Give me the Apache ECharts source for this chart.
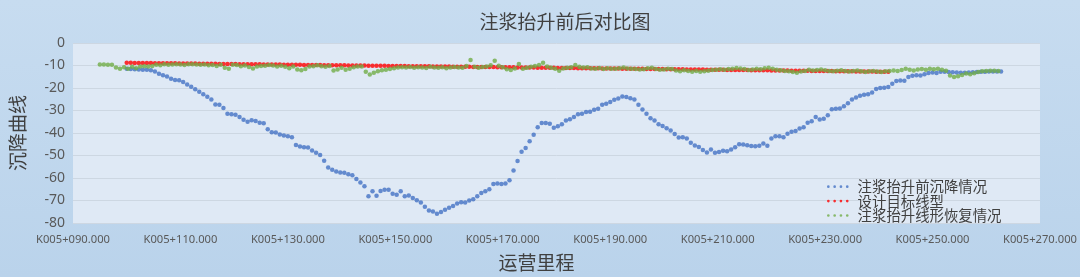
<!DOCTYPE html>
<html>
<head>
<meta charset="utf-8">
<script src="https://cdn.jsdelivr.net/npm/echarts@6/dist/echarts.min.js"></script>
<style>
html,body{margin:0;padding:0;width:1080px;height:277px;overflow:hidden;}
#c{width:1080px;height:277px;}
</style>
</head>
<body>
<div id="c"></div>
<script>
// ---- data ----
const titleText = '注浆抬升前后对比图';
const yAxisName = '沉降曲线';
const xAxisName = '运营里程';
const seriesNames = ['注浆抬升前沉降情况', '设计目标线型', '注浆抬升线形恢复情况'];
const xTickValues = [90, 110, 130, 150, 170, 190, 210, 230, 250, 270];
const yTickValues = [0, -10, -20, -30, -40, -50, -60, -70, -80];
const stationStep = 0.75;          // m between survey points
const beforeStart = 100;           // first station (K005+xxx) of each series
const designStart = 100;
const afterStart = 95;

const beforeValues = [
-11.5,-11.6,-11.7,-11.8,-11.9,-11.9,-12.1,-12.7,-13.7,-14.3,-14.9,-15.9,-16.4,-16.6,-17.3,-18.4,-19.5,-20.6,-21.7,-22.8,
-23.9,-25.1,-27.3,-27.5,-28.9,-31.4,-31.7,-31.9,-32.9,-34.1,-35.0,-34.3,-34.7,-35.4,-35.7,-38.3,-39.7,-39.8,-40.7,-41.1,
-41.4,-41.9,-45.3,-46.0,-46.3,-46.5,-47.8,-48.8,-49.8,-52.3,-55.3,-56.3,-57.1,-57.6,-57.7,-58.3,-58.8,-60.5,-62.0,-63.7,
-68.1,-65.9,-67.9,-65.8,-65.2,-65.2,-67.0,-67.5,-65.9,-68.1,-67.8,-68.9,-69.9,-70.9,-72.8,-74.5,-74.9,-75.9,-75.1,-74.1,
-73.2,-72.4,-71.3,-70.8,-70.9,-70.0,-69.4,-68.1,-66.7,-65.9,-65.0,-62.7,-62.5,-62.7,-62.5,-61.0,-56.7,-52.5,-48.3,-46.7,
-43.7,-40.8,-37.5,-35.6,-35.6,-35.9,-37.7,-37.0,-36.1,-34.5,-33.9,-32.9,-31.7,-31.4,-30.7,-30.6,-29.7,-29.2,-27.5,-27.0,
-26.2,-25.2,-24.7,-23.8,-24.0,-24.6,-25.1,-27.5,-29.6,-31.5,-33.5,-34.4,-36.1,-36.9,-37.9,-38.9,-40.5,-42.0,-41.9,-42.4,
-44.3,-45.6,-46.2,-47.6,-48.7,-47.3,-48.8,-48.4,-47.9,-48.1,-47.3,-46.3,-45.0,-45.1,-45.5,-45.8,-45.9,-45.7,-44.7,-45.7,
-42.5,-41.5,-41.5,-41.9,-40.3,-39.4,-39.1,-38.0,-37.4,-35.4,-34.8,-32.9,-34.0,-33.7,-32.1,-29.4,-29.2,-29.1,-28.1,-26.8,
-25.1,-24.2,-23.5,-23.0,-22.8,-22.0,-20.4,-20.0,-19.9,-19.6,-18.1,-16.9,-16.7,-16.8,-15.1,-14.6,-14.3,-14.4,-13.9,-13.3,
-13.1,-13.3,-12.8,-12.8,-12.9,-13.0,-13.1,-13.2,-13.2,-13.1,-13.0,-12.9,-12.8,-12.8,-12.7,-12.7,-12.7,-12.7
];

const designValues = [
-8.80,-8.82,-8.84,-8.86,-8.88,-8.91,-8.93,-8.95,-8.97,-8.99,
-9.01,-9.03,-9.05,-9.07,-9.10,-9.12,-9.14,-9.16,-9.18,-9.20,
-9.22,-9.24,-9.26,-9.29,-9.31,-9.33,-9.35,-9.37,-9.39,-9.41,
-9.43,-9.45,-9.48,-9.50,-9.52,-9.54,-9.56,-9.58,-9.60,-9.62,
-9.65,-9.67,-9.69,-9.71,-9.73,-9.75,-9.77,-9.79,-9.81,-9.84,
-9.86,-9.88,-9.90,-9.92,-9.94,-9.96,-9.98,-10.00,-10.03,-10.05,
-10.07,-10.09,-10.11,-10.13,-10.15,-10.17,-10.19,-10.22,-10.24,-10.26,
-10.28,-10.30,-10.32,-10.34,-10.36,-10.38,-10.41,-10.43,-10.45,-10.47,
-10.49,-10.51,-10.53,-10.55,-10.57,-10.60,-10.62,-10.64,-10.66,-10.68,
-10.70,-10.72,-10.74,-10.77,-10.79,-10.81,-10.83,-10.85,-10.87,-10.89,
-10.91,-10.93,-10.96,-10.98,-11.00,-11.02,-11.04,-11.06,-11.08,-11.10,
-11.12,-11.15,-11.17,-11.19,-11.21,-11.23,-11.25,-11.27,-11.29,-11.31,
-11.34,-11.36,-11.38,-11.40,-11.42,-11.44,-11.46,-11.48,-11.50,-11.53,
-11.55,-11.57,-11.59,-11.61,-11.63,-11.65,-11.67,-11.69,-11.72,-11.74,
-11.76,-11.78,-11.80,-11.82,-11.84,-11.86,-11.88,-11.91,-11.93,-11.95,
-11.97,-11.99,-12.01,-12.03,-12.05,-12.07,-12.10,-12.12,-12.14,-12.16,
-12.18,-12.20,-12.22,-12.24,-12.26,-12.29,-12.31,-12.33,-12.35,-12.37,
-12.39,-12.41,-12.43,-12.45,-12.48,-12.50,-12.52,-12.54,-12.56,-12.58,
-12.60,-12.62,-12.64,-12.67,-12.69,-12.71,-12.73,-12.75,-12.77,-12.79
];

const afterValues = [
-9.6,-9.6,-9.7,-9.7,-10.9,-11.4,-10.8,-11.5,-10.6,-11.2,
-10.5,-10.3,-10.4,-10.2,-9.7,-9.9,-9.5,-9.7,-9.6,-9.4,
-9.6,-9.8,-9.5,-9.4,-9.6,-9.7,-9.6,-9.9,-9.8,-10.2,
-9.7,-11.0,-11.4,-9.7,-9.8,-10.3,-10.0,-10.7,-11.3,-10.4,
-10.2,-10.1,-9.8,-10.0,-10.4,-10.1,-10.6,-11.2,-10.4,-11.8,
-12.1,-11.6,-10.5,-10.3,-9.9,-10.3,-10.6,-10.2,-12.2,-11.8,
-11.0,-11.9,-11.4,-10.8,-10.4,-10.5,-12.8,-14.0,-13.2,-12.6,
-12.1,-11.9,-11.6,-11.2,-10.9,-10.8,-10.9,-10.7,-11.0,-10.8,
-10.9,-11.1,-10.6,-10.9,-11.0,-10.8,-11.2,-10.9,-10.7,-10.9,
-11.0,-10.2,-7.6,-10.6,-11.0,-10.7,-10.4,-9.9,-7.9,-10.1,
-10.8,-11.7,-12.0,-11.3,-9.3,-11.4,-11.0,-10.6,-10.2,-9.8,
-8.8,-10.5,-11.0,-11.5,-12.3,-11.3,-11.0,-10.8,-9.8,-10.6,
-10.9,-10.8,-11.3,-11.5,-11.1,-11.6,-11.2,-11.5,-11.4,-11.2,
-10.9,-11.3,-11.5,-11.6,-11.8,-11.7,-11.2,-11.0,-11.6,-11.9,
-11.8,-11.4,-11.6,-12.2,-12.6,-12.1,-12.4,-12.8,-12.5,-12.8,
-12.6,-12.3,-12.0,-11.9,-11.7,-11.9,-11.6,-11.4,-11.1,-11.3,
-11.6,-12.0,-11.8,-11.5,-11.7,-11.2,-11.0,-11.4,-11.9,-12.1,
-12.4,-12.6,-12.9,-13.2,-12.7,-12.4,-11.9,-12.2,-12.0,-11.8,
-12.1,-12.4,-12.6,-12.3,-12.1,-12.4,-12.7,-12.5,-12.2,-12.6,
-12.9,-12.6,-12.4,-12.7,-12.9,-12.6,-12.5,-12.2,-12.4,-12.0,
-11.5,-11.9,-12.2,-11.8,-11.6,-11.9,-11.4,-11.7,-11.5,-11.9,
-12.3,-14.4,-15.1,-14.8,-14.2,-13.6,-13.9,-13.4,-12.9,-12.6,
-12.4,-12.3,-12.3,-12.4
];

function toPoints(start, values) {
  return values.map((v, i) => [start + i * stationStep, v]);
}
function stationLabel(v) {
  return 'K005+' + String(v).padStart(3, '0') + '.000';
}

const chart = echarts.init(document.getElementById('c'), null, {renderer: 'canvas'});
const cjk = '"Noto Sans CJK SC", "Noto Sans", sans-serif';
const dotIcon = 'path://M0,1.35a1.35,1.35 0 1,0 2.7,0a1.35,1.35 0 1,0 -2.7,0Z' +
  'M6.3,1.35a1.35,1.35 0 1,0 2.7,0a1.35,1.35 0 1,0 -2.7,0Z' +
  'M12.6,1.35a1.35,1.35 0 1,0 2.7,0a1.35,1.35 0 1,0 -2.7,0Z' +
  'M18.9,1.35a1.35,1.35 0 1,0 2.7,0a1.35,1.35 0 1,0 -2.7,0Z';
const colors = ['#4472c4', '#ff0000', '#70ad47'];

chart.setOption({
  animation: false,
  backgroundColor: {
    type: 'linear', x: 0, y: 0, x2: 0, y2: 1,
    colorStops: [{offset: 0, color: '#c7dcf0'}, {offset: 1, color: '#bad3eb'}]
  },
  title: {
    text: titleText,
    left: 560, top: 7, textAlign: 'center',
    textStyle: {fontFamily: cjk, fontSize: 19, fontWeight: 'normal', color: '#404040'}
  },
  grid: {
    left: 65, right: 40, top: 43, bottom: 53,
    show: true, backgroundColor: '#dfe9f5', borderWidth: 0
  },
  legend: {
    orient: 'vertical', left: 822, top: 174.5, itemGap: 0,
    itemWidth: 21.6, itemHeight: 2.7, icon: dotIcon,
    textStyle: {fontFamily: cjk, fontSize: 14.4, color: '#404040', lineHeight: 14.3, padding: [0, 0, 0, 4]},
    data: seriesNames
  },
  xAxis: {
    type: 'value', min: xTickValues[0], max: xTickValues[xTickValues.length - 1], interval: 10,
    name: xAxisName, nameLocation: 'middle', nameGap: 30,
    nameTextStyle: {fontFamily: cjk, fontSize: 19, color: '#404040', padding: [0, 0, 0, -40]},
    axisLine: {show: false}, axisTick: {show: false}, splitLine: {show: false},
    axisLabel: {
      margin: 11, fontFamily: '"Noto Sans", sans-serif', fontSize: 11.2, color: '#595959',
      formatter: v => xTickValues.includes(v) ? stationLabel(v) : ''
    }
  },
  yAxis: {
    type: 'value', min: yTickValues[yTickValues.length - 1], max: yTickValues[0], interval: 10,
    name: yAxisName, nameLocation: 'middle', nameGap: 46, nameRotate: 90,
    nameTextStyle: {fontFamily: cjk, fontSize: 19, color: '#404040'},
    axisLine: {show: false}, axisTick: {show: false},
    splitLine: {lineStyle: {color: '#cdd7e2', width: 1}},
    axisLabel: {margin: 8, fontFamily: '"Noto Sans", sans-serif', fontSize: 14, color: '#595959'}
  },
  series: [
    {name: seriesNames[0], type: 'scatter', symbol: 'circle', symbolSize: 4.5,
     itemStyle: {color: colors[0]}, data: toPoints(beforeStart, beforeValues)},
    {name: seriesNames[1], type: 'scatter', symbol: 'circle', symbolSize: 4.5,
     itemStyle: {color: colors[1]}, data: toPoints(designStart, designValues)},
    {name: seriesNames[2], type: 'scatter', symbol: 'circle', symbolSize: 4.5,
     itemStyle: {color: colors[2]}, data: toPoints(afterStart, afterValues)}
  ]
});
</script>
</body>
</html>
